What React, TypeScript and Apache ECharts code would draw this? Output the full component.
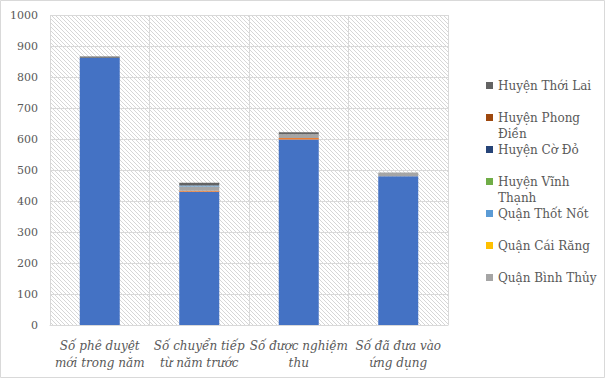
import React, { useEffect, useRef } from "react";
import * as echarts from "echarts";

const categories = [
  "Số phê duyệt\nmới trong năm",
  "Số chuyển tiếp\ntừ năm trước",
  "Số được nghiệm\nthu",
  "Số đã đưa vào\nứng dụng",
];

const yTicks = { min: 0, max: 1000, interval: 100 };

const quanNinhKieu = [862, 430, 598, 480];
const quanOMon = [0, 3, 5, 0];
const quanBinhThuy = [0, 14, 12, 12];
const quanCaiRang = [0, 0, 0, 0];
const quanThotNot = [0, 3, 0, 0];
const huyenVinhThanh = [0, 0, 0, 0];
const huyenCoDo = [0, 0, 0, 0];
const huyenPhongDien = [0, 0, 0, 0];
const huyenThoiLai = [4, 9, 7, 0];

const seriesNames = [
  "Quận Ninh Kiều",
  "Quận Ô Môn",
  "Quận Bình Thủy",
  "Quận Cái Răng",
  "Quận Thốt Nốt",
  "Huyện Vĩnh Thạnh",
  "Huyện Cờ Đỏ",
  "Huyện Phong Điền",
  "Huyện Thới Lai",
];
const seriesValues = [
  quanNinhKieu,
  quanOMon,
  quanBinhThuy,
  quanCaiRang,
  quanThotNot,
  huyenVinhThanh,
  huyenCoDo,
  huyenPhongDien,
  huyenThoiLai,
];
const seriesColors = [
  "#4472C4",
  "#ED7D31",
  "#A5A5A5",
  "#FFC000",
  "#5B9BD5",
  "#70AD47",
  "#264478",
  "#9E480E",
  "#636363",
];

// legend entries shown (top to bottom)
const legendNames = [
  "Huyện Thới Lai",
  "Huyện Phong Điền",
  "Huyện Cờ Đỏ",
  "Huyện Vĩnh Thạnh",
  "Quận Thốt Nốt",
  "Quận Cái Răng",
  "Quận Bình Thủy",
];
const legendLabels: Record<string, string> = {
  "Huyện Phong Điền": "\nHuyện Phong\nĐiền",
  "Huyện Vĩnh Thạnh": "\nHuyện Vĩnh\nThạnh",
};

const FONT = "'DejaVu Serif', serif";
const TEXT_COLOR = "#595959";

function hatchPattern() {
  const svg =
    '<svg xmlns="http://www.w3.org/2000/svg" width="4" height="4">' +
    '<rect width="4" height="4" fill="#ffffff"/>' +
    '<path d="M-1,-1 L5,5 M-1,3 L1,5 M3,-1 L5,1" stroke="#D6D6D6" stroke-width="1"/>' +
    "</svg>";
  return {
    image: "data:image/svg+xml;utf8," + encodeURIComponent(svg),
    repeat: "repeat",
    imageWidth: 4,
    imageHeight: 4,
  };
}

export default function App() {
  const ref = useRef<HTMLDivElement>(null);

  useEffect(() => {
    if (!ref.current) return;
    const chart = echarts.init(ref.current, null, { renderer: "svg" });

    const legendTop0 = 85.5;
    const legendStep = 32;
    const legends = legendNames.map((name, i) => {
      const twoLine = !!legendLabels[name];
      const c = legendTop0 + i * legendStep;
      return {
        show: true,
        orient: "vertical",
        left: 486,
        top: twoLine ? c - 24 : c - 8,
        padding: 0,
        itemWidth: 7,
        itemHeight: 7,
        icon: "rect",
        selectedMode: false,
        formatter: (n: string) => legendLabels[n] || n,
        textStyle: {
          color: TEXT_COLOR,
          fontSize: 12,
          fontFamily: FONT,
          lineHeight: 16,
          backgroundColor: "rgba(0,0,0,0)",
        },
        data: [name],
      };
    });

    chart.setOption({
      animation: false,
      grid: {
        left: 50,
        right: 157,
        top: 15,
        bottom: 53,
        show: true,
        backgroundColor: hatchPattern(),
        borderWidth: 0,
        containLabel: false,
      },
      legend: legends,
      xAxis: {
        type: "category",
        data: categories,
        axisLine: { show: true, lineStyle: { color: "#D9D9D9", width: 1 } },
        axisTick: { show: false },
        splitLine: { show: true, interval: 0, lineStyle: { color: "#D9D9D9", width: 1 } },
        axisLabel: {
          interval: 0,
          margin: 12,
          color: TEXT_COLOR,
          fontSize: 12,
          fontStyle: "italic",
          fontFamily: FONT,
          lineHeight: 17,
        },
      },
      yAxis: {
        type: "value",
        min: yTicks.min,
        max: yTicks.max,
        interval: yTicks.interval,
        axisLine: { show: false },
        axisTick: { show: false },
        splitLine: { show: true, lineStyle: { color: "#D9D9D9", width: 1 } },
        axisLabel: {
          margin: 12,
          color: TEXT_COLOR,
          fontSize: 11,
          fontFamily: FONT,
          formatter: (v: number) => String(v),
        },
      },
      series: seriesNames.map((name, i) => ({
        name,
        type: "bar",
        stack: "total",
        barWidth: 40,
        data: seriesValues[i],
        itemStyle: { color: seriesColors[i] },
        emphasis: { disabled: true },
      })),
      graphic: [
        {
          type: "rect",
          shape: { x: 0.5, y: 0.5, width: 604, height: 377 },
          style: { fill: "none", stroke: "#D9D9D9", lineWidth: 1 },
          silent: true,
        },
      ],
    });

    return () => chart.dispose();
  }, []);

  return (
    <div
      ref={ref}
      style={{ position: "fixed", left: 0, top: 0, width: 605, height: 378, background: "#ffffff" }}
    />
  );
}
